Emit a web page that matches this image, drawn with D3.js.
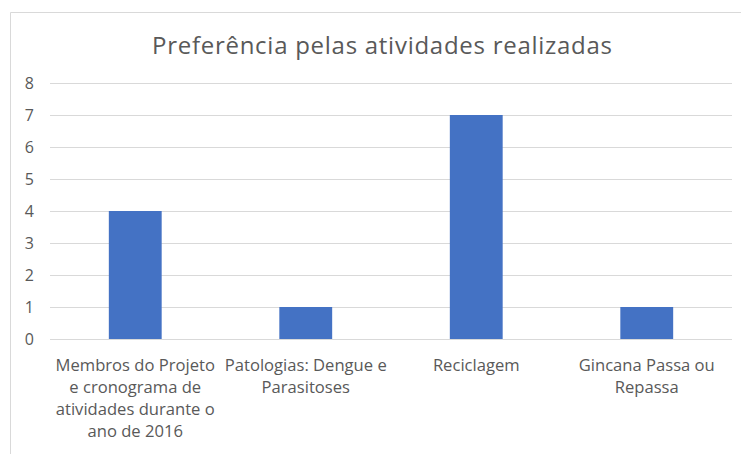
<!DOCTYPE html>
<html>
<head>
<meta charset="utf-8">
<script src="https://cdn.jsdelivr.net/npm/d3@7"></script>
<style>
  body { margin: 0; background: #fff; }
  text { font-family: "Open Sans", Lato, sans-serif; fill: #595959; }
</style>
</head>
<body>
<div id="chart"></div>
<script>
// data
const categories = [
  'Membros do Projeto e cronograma de atividades durante o ano de 2016',
  'Patologias: Dengue e Parasitoses',
  'Reciclagem',
  'Gincana Passa ou Repassa'
];
// how Excel wrapped the category labels
const categoryLines = [
  ['Membros do Projeto', 'e cronograma de', 'atividades durante o', 'ano de 2016'],
  ['Patologias: Dengue e', 'Parasitoses'],
  ['Reciclagem'],
  ['Gincana Passa ou', 'Repassa']
];
const values = [4, 1, 7, 1];
const yTicks = [0, 1, 2, 3, 4, 5, 6, 7, 8];
const title = 'Preferência pelas atividades realizadas';

const width = 741, height = 454;
const margin = {top: 83, bottom: 115, left: 50, right: 9};

let svg = d3.select('#chart').append('svg').attr('width', width).attr('height', height);

// chart frame (cropped on the right and bottom)
svg.append('path')
  .attr('d', 'M10.5,' + height + 'V12.5H' + width)
  .attr('fill', 'none')
  .attr('stroke', '#d9d9d9')
  .attr('stroke-width', 1);

svg.append('text')
  .attr('x', 382).attr('y', 54)
  .attr('text-anchor', 'middle')
  .style('font-size', '24px')
  .attr('textLength', 460)
  .attr('lengthAdjust', 'spacing')
  .text(title);

let xScale = d3.scaleBand()
  .domain(categories)
  .range([margin.left, width - margin.right])
  .paddingInner(0.69).paddingOuter(0.345);

let yScale = d3.scaleLinear()
  .domain([0, 8])
  .range([height - margin.bottom, margin.top]);

// gridlines + y labels
let yAxis = d3.axisLeft(yScale)
  .tickValues(yTicks)
  .tickSize(-(width - margin.right - margin.left))
  .tickPadding(16);

let yg = svg.append('g')
  .attr('transform', 'translate(' + [margin.left, 0] + ')')
  .call(yAxis);
yg.select('.domain').remove();
yg.selectAll('line').attr('stroke', '#d9d9d9').attr('stroke-width', 1);
yg.selectAll('text').style('font-size', '16px').attr('fill', '#595959').attr('font-family', null);

// bars
svg.append('g').selectAll('rect')
  .data(values).enter().append('rect')
  .attr('x', (d, i) => xScale(categories[i]))
  .attr('y', d => yScale(d))
  .attr('width', xScale.bandwidth())
  .attr('height', d => yScale(0) - yScale(d))
  .attr('fill', '#4472c4');

// x axis line
let xAxis = d3.axisBottom(xScale).tickSize(0).tickFormat('');
let xg = svg.append('g')
  .attr('transform', 'translate(' + [0, yScale(0)] + ')')
  .call(xAxis);
xg.select('.domain').attr('stroke', '#d9d9d9').attr('d', 'M' + margin.left + ',0.5H' + (width - margin.right));

// category labels
let labels = svg.append('g').selectAll('text')
  .data(categories).enter().append('text')
  .attr('text-anchor', 'middle')
  .style('font-size', '16.6px')
  .attr('y', yScale(0) + 32);
labels.each(function(d, i) {
  let cx = xScale(d) + xScale.bandwidth() / 2;
  d3.select(this).selectAll('tspan')
    .data(categoryLines[i]).enter().append('tspan')
    .attr('x', cx)
    .attr('dy', (t, j) => j === 0 ? 0 : 22)
    .text(t => t);
});
</script>
</body>
</html>
